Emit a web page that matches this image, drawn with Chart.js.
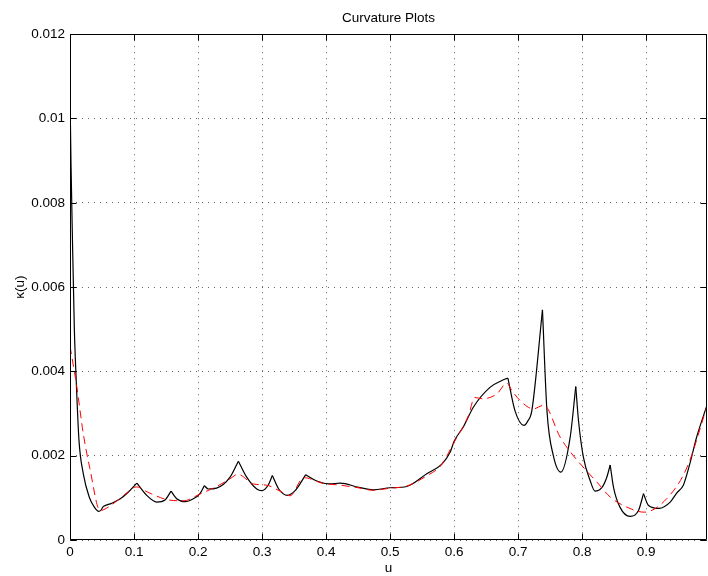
<!DOCTYPE html>
<html>
<head>
<meta charset="utf-8">
<script src="https://cdn.jsdelivr.net/npm/chart.js@4.4.1/dist/chart.umd.min.js"></script>
<style>
  html, body { margin: 0; padding: 0; background: #fff; }
</style>
</head>
<body>
<canvas id="chart" width="708" height="576"></canvas>
<script>
// Curvature plot: exact curvature (black) vs approximation (red dashed)
var BLACK_U = [0, 0.0016, 0.0036, 0.0068, 0.0094, 0.014, 0.0208, 0.030, 0.038, 0.045,
  0.0495, 0.051, 0.0526, 0.065, 0.078, 0.09, 0.1045,
  0.1198, 0.1354, 0.1484, 0.1578,
  0.1667, 0.1797, 0.1927, 0.203, 0.2099,
  0.216, 0.229, 0.25, 0.263,
  0.276, 0.2917, 0.2995, 0.3099, 0.3161,
  0.326, 0.3396, 0.3516, 0.3682,
  0.3854, 0.406, 0.422, 0.451, 0.474, 0.5, 0.526, 0.5573, 0.5808, 0.5937, 0.6,
  0.615, 0.630, 0.656, 0.677, 0.684,
  0.695, 0.709, 0.715, 0.7214, 0.738, 0.745,
  0.755, 0.7667, 0.7813, 0.790,
  0.7943, 0.802, 0.8125, 0.82, 0.831, 0.8385, 0.8438,
  0.849, 0.859, 0.875, 0.888, 0.8958,
  0.9036, 0.92, 0.9375, 0.948, 0.958, 0.968, 0.979, 0.995];
var BLACK_K = [0.0106, 0.0089, 0.0073, 0.0050, 0.0039, 0.00237, 0.00157, 0.00102, 0.00078, 0.00068,
  0.00073, 0.00078, 0.0008, 0.00087, 0.00097, 0.00112, 0.00135,
  0.00106, 0.0009, 0.00095, 0.00116,
  0.00098, 0.00091, 0.00098, 0.0011, 0.00129,
  0.00121, 0.00123, 0.00149, 0.00187,
  0.00149, 0.00121, 0.00117, 0.00131, 0.00153,
  0.00121, 0.00106, 0.00117, 0.00155,
  0.0014, 0.00133, 0.00135, 0.00125, 0.00119, 0.00124, 0.00127, 0.00157, 0.0018, 0.00208, 0.00234,
  0.0027, 0.00315, 0.00362, 0.0038, 0.00384,
  0.00307, 0.00272, 0.00282, 0.00307, 0.00546, 0.00307,
  0.0020, 0.00161, 0.00244, 0.00364,
  0.00283, 0.00196, 0.00141, 0.00116, 0.00125, 0.00149, 0.00178,
  0.00125, 0.00078, 0.00056, 0.0007, 0.0011,
  0.00082, 0.00075, 0.0009, 0.00112, 0.0013, 0.0018, 0.00245, 0.0032];
// knots where the exact curvature has a corner
var BLACK_CUSPS = [0.051, 0.1045, 0.1578, 0.2099, 0.263, 0.3161, 0.3682, 0.684, 0.738, 0.790, 0.8438, 0.8958];

var RED_U = [0, 0.01, 0.021, 0.031, 0.047, 0.06, 0.0833, 0.104, 0.122, 0.151, 0.177, 0.203,
  0.229, 0.25, 0.262, 0.2865, 0.3073, 0.328, 0.3438, 0.365, 0.396, 0.417, 0.45, 0.474,
  0.5, 0.526, 0.557, 0.58, 0.6, 0.6224, 0.632, 0.645, 0.667, 0.6823, 0.69, 0.703, 0.724,
  0.74, 0.7656, 0.781, 0.8255, 0.8438, 0.8698, 0.897, 0.932, 0.964, 0.995];
var RED_K = [0.0046, 0.0037, 0.0025, 0.0017, 0.0007, 0.00078, 0.00105, 0.00126, 0.00113, 0.00096, 0.00093, 0.00109,
  0.00127, 0.00145, 0.00156, 0.00133, 0.0013, 0.00116, 0.00105, 0.00148, 0.00134, 0.00131, 0.00124, 0.00118,
  0.00123, 0.00128, 0.00152, 0.00178, 0.00232, 0.00295, 0.00338, 0.00335, 0.00347, 0.00372, 0.00355, 0.00331, 0.00311,
  0.0032, 0.00244, 0.0021, 0.00133, 0.00102, 0.00078, 0.00066, 0.00098, 0.00173, 0.00317];

var X_TICKS = [0, 0.1, 0.2, 0.3, 0.4, 0.5, 0.6, 0.7, 0.8, 0.9];
var Y_TICKS = [0, 0.002, 0.004, 0.006, 0.008, 0.01, 0.012];

var FONT = "'Liberation Sans', Arial, sans-serif";
var GRID = "rgba(0,0,0,0.6)";
var TICK_LEN = 6;

function pts(us, ks) {
  return us.map(function (u, i) { return { x: u, y: ks[i] }; });
}

// break a series into pieces at its corners so each arc can be smoothed alone
function splitAt(us, ks, cusps) {
  var segs = [], cur = [];
  us.forEach(function (u, i) {
    cur.push({ x: u, y: ks[i] });
    if (cusps.indexOf(u) >= 0) {
      segs.push(cur);
      cur = [{ x: u, y: ks[i] }];
    }
  });
  if (cur.length > 1) segs.push(cur);
  return segs;
}

// MATLAB-style box with inward tick marks
var boxPlugin = {
  id: "box",
  afterDraw: function (chart) {
    var ctx = chart.ctx, a = chart.chartArea;
    var xs = chart.scales.x, ys = chart.scales.y;
    var l = Math.round(a.left) + 0.5, r = Math.round(a.right) - 0.5;
    var t = Math.round(a.top) + 0.5, b = Math.round(a.bottom) - 0.5;
    ctx.save();
    ctx.strokeStyle = "#000";
    ctx.lineWidth = 1;
    ctx.beginPath();
    ctx.moveTo(l, t); ctx.lineTo(r, t); ctx.lineTo(r, b); ctx.lineTo(l, b); ctx.closePath();
    xs.ticks.forEach(function (tk) {
      var px = Math.round(xs.getPixelForValue(tk.value)) + 0.5;
      ctx.moveTo(px, b); ctx.lineTo(px, b - TICK_LEN);
      ctx.moveTo(px, t); ctx.lineTo(px, t + TICK_LEN);
    });
    ys.ticks.forEach(function (tk) {
      var py = Math.round(ys.getPixelForValue(tk.value)) + 0.5;
      ctx.moveTo(l, py); ctx.lineTo(l + TICK_LEN, py);
      ctx.moveTo(r, py); ctx.lineTo(r - TICK_LEN, py);
    });
    ctx.stroke();
    ctx.restore();
  }
};

var datasets = [{
  label: "approx",
  data: pts(RED_U, RED_K),
  borderColor: "#ff0000",
  borderWidth: 1,
  borderDash: [8, 5],
  pointRadius: 0,
  cubicInterpolationMode: "monotone",
  order: 0
}];
splitAt(BLACK_U, BLACK_K, BLACK_CUSPS).forEach(function (seg) {
  datasets.push({
    label: "exact",
    data: seg,
    borderColor: "#000",
    borderWidth: 1.2,
    pointRadius: 0,
    cubicInterpolationMode: "monotone",
    order: 1
  });
});

new Chart(document.getElementById("chart"), {
  type: "line",
  data: { datasets: datasets },
  options: {
    responsive: false,
    animation: false,
    layout: { padding: { right: 1, left: 0, bottom: 0, top: 0 } },
    plugins: {
      legend: { display: false },
      tooltip: { enabled: false },
      title: {
        display: true,
        text: "Curvature Plots",
        fullSize: false,
        color: "#000",
        font: { family: FONT, size: 13.5, weight: "normal" },
        padding: { top: 10, bottom: 8 }
      }
    },
    scales: {
      x: {
        type: "linear",
        min: 0,
        max: 0.995,
        afterBuildTicks: function (s) { s.ticks = X_TICKS.map(function (v) { return { value: v }; }); },
        afterFit: function (s) { s.height = 36; },
        ticks: {
          color: "#000",
          padding: 4,
          maxRotation: 0,
          font: { family: FONT, size: 13.5 },
          callback: function (v) { return String(Math.round(v * 10) / 10); }
        },
        grid: { color: GRID, lineWidth: 1, drawTicks: false },
        border: { display: false, dash: [1, 5] },
        title: {
          display: true,
          text: "u",
          color: "#000",
          font: { family: FONT, size: 13.5 },
          padding: { top: 0, bottom: 0 }
        }
      },
      y: {
        type: "linear",
        min: 0,
        max: 0.012,
        afterBuildTicks: function (s) { s.ticks = Y_TICKS.map(function (v) { return { value: v }; }); },
        afterFit: function (s) { s.width = 70; },
        ticks: {
          color: "#000",
          padding: 5,
          font: { family: FONT, size: 13.5 },
          callback: function (v) { return String(+v.toFixed(3)); }
        },
        grid: { color: GRID, lineWidth: 1, drawTicks: false },
        border: { display: false, dash: [1, 5] },
        title: {
          display: true,
          text: "κ(u)",
          color: "#000",
          font: { family: FONT, size: 13.5 },
          padding: { top: 12, bottom: 0 }
        }
      }
    }
  },
  plugins: [boxPlugin]
});
</script>
</body>
</html>
